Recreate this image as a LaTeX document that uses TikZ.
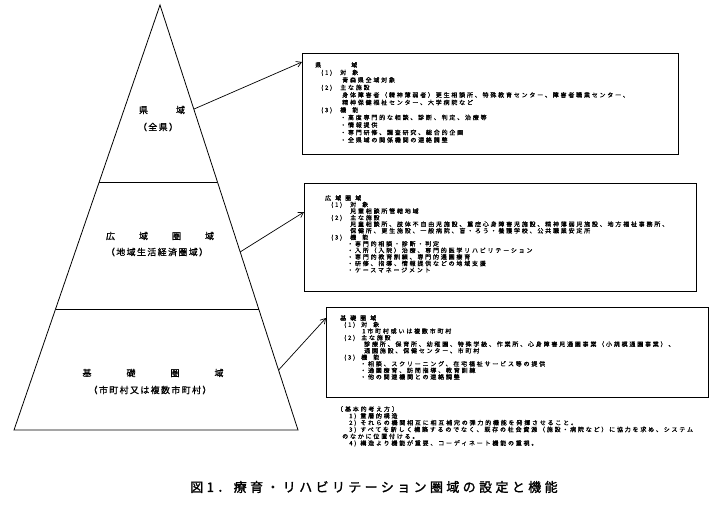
\documentclass[tikz,border=0pt]{standalone}
\usepackage{fontspec}
\newfontfamily\jpfont{Noto Sans CJK JP}
\newfontfamily\jpsmall[LetterSpace=30,FakeBold=1]{Noto Sans CJK JP}
\newfontfamily\jplabel[LetterSpace=15,FakeBold=0.8]{Noto Sans CJK JP}
\newfontfamily\jpcap[LetterSpace=26,FakeBold=1.5]{Noto Sans CJK JP}
\usetikzlibrary{arrows.meta,calc}

\tikzset{
	layer/.style={draw, line width=0.8pt},
	infobox/.style={draw, line width=1.1pt, anchor=north west, inner sep=0pt},
	infotext/.style={anchor=north west, align=left, inner sep=0pt},
	tierlabel/.style={align=center, inner sep=0pt, font=\jplabel\fontsize{9}{11}\selectfont},
	link/.style={-{Straight Barb[length=5pt,width=6pt]}, line width=0.7pt}
}
\newcommand{\ind}[1]{\hspace*{#1pt}}

\begin{document}
\begin{tikzpicture}[x=1pt,y=-1pt]
	\useasboundingbox (0,0) rectangle (717,509);
	% pyramid
	\coordinate (apex) at (160,5);
	\coordinate (baseL) at (14,430);
	\coordinate (baseR) at (298,430);
	\draw[layer] (apex) -- (baseL) -- (baseR) -- cycle;
	\draw[layer] ($(apex)!0.4165!(baseL)$) -- ($(apex)!0.4165!(baseR)$);
	\draw[layer] ($(apex)!0.7153!(baseL)$) -- ($(apex)!0.7153!(baseR)$);
	\coordinate (outA) at ($(apex)!0.245!(baseR)$);
	\coordinate (outB) at ($(apex)!0.581!(baseR)$);
	\coordinate (outC) at ($(apex)!0.859!(baseR)$);
	% tier labels
	\node[tierlabel] (prefT) at (162,110) {県\ind{28}域};
	\node[tierlabel] (prefS) at (158,127) {（全県）};
	\node[tierlabel] (wideT) at (160,236) {広\ind{24}域\ind{24}圏\ind{24}域};
	\node[tierlabel] (wideS) at (157,252) {（地域生活経済圏域）};
	\node[tierlabel] (baseT) at (153,373) {基\ind{35}礎\ind{35}圏\ind{35}域};
	\node[tierlabel] (baseS) at (150,390) {（市町村又は複数市町村）};
	% boxes
	\node[infobox, minimum width=376pt, minimum height=101pt] (prefBox) at (302,53) {};
	\node[infobox, minimum width=392pt, minimum height=108pt] (wideBox) at (304,183) {};
	\node[infobox, minimum width=382pt, minimum height=90pt] (baseBox) at (326,307) {};
	\draw[link] (outA) -- ($(prefBox.north west)+(0,9)$);
	\draw[link] (outB) -- ($(wideBox.north west)+(0,29)$);
	\draw[link] (outC) -- ($(baseBox.north west)+(0,11)$);
	% box texts
	\node[infotext, font=\jpsmall\fontsize{6}{7.5}\selectfont] (prefTxt) at (315,62) {%
		県\ind{30}域\\
		\ind{6}(1)\ind{8}対\ind{6}象\\
		\ind{27}青森県全域対象\\
		\ind{6}(2)\ind{8}主な施設\\
		\ind{27}身体障害者（精神薄弱者）更生相談所、特殊教育センター、障害者職業センター、\\
		\ind{27}精神保健福祉センター、大学病院など\\
		\ind{6}(3)\ind{8}機\ind{6}能\\
		\ind{25}・高度専門的な相談、診断、判定、治療等\\
		\ind{25}・情報提供\\
		\ind{25}・専門研修、調査研究、総合的企画\\
		\ind{25}・全県域の関係機関の連絡調整};
	\node[infotext, font=\jpsmall\fontsize{6}{6.55}\selectfont] (wideTxt) at (325,195) {%
		広\ind{4}域\ind{4}圏\ind{4}域\\
		\ind{6}(1)\ind{8}対\ind{6}象\\
		\ind{25}児童相談所管轄地域\\
		\ind{6}(2)\ind{8}主な施設\\
		\ind{25}児童相談所、肢体不自由児施設、重症心身障害児施設、精神薄弱児施設、地方福祉事務所、\\
		\ind{25}保健所、更生施設、一般病院、盲・ろう・養護学校、公共職業安定所\\
		\ind{6}(3)\ind{8}機\ind{6}能\\
		\ind{22}・専門的相談・診断・判定\\
		\ind{22}・入所（入院）治療、専門的医学リハビリテーション\\
		\ind{22}・専門的教育訓練、専門的通園療育\\
		\ind{22}・研修、指導、情報提供などの地域支援\\
		\ind{22}・ケースマネージメント};
	\node[infotext, font=\jpsmall\fontsize{6}{6.55}\selectfont] (baseTxt) at (340,315) {%
		基\ind{4}礎\ind{4}圏\ind{4}域\\
		\ind{4}(1)\ind{6}対\ind{6}象\\
		\ind{22}1市町村或いは複数市町村\\
		\ind{4}(2)\ind{6}主な施設\\
		\ind{24}診療所、保育所、幼稚園、特殊学級、作業所、心身障害児通園事業（小規模通園事業）、\\
		\ind{24}通園施設、保健センター、市町村\\
		\ind{4}(3)\ind{6}機\ind{6}能\\
		\ind{20}・相談、スクリーニング、在宅福祉サービス等の提供\\
		\ind{20}・通園療育、訪問指導、教育訓練\\
		\ind{20}・他の関連機関との連絡調整};
	% basic idea
	\node[infotext, font=\jpsmall\fontsize{6}{6.8}\selectfont] (ideaTxt) at (337,406) {%
		〔基本的考え方〕\\
		\ind{12}1)\ind{4}重層的構造\\
		\ind{12}2)\ind{4}それらの機関相互に相互補完の弾力的機能を発揮させること。\\
		\ind{12}3)\ind{4}すべてを新しく構築するのでなく、既存の社会資源（施設・病院など）に協力を求め、システム\\
		\ind{5}のなかに位置付ける。\\
		\ind{12}4)\ind{4}構造より機能が重要、コーディネート機能の重視。};
	% caption
	\node[inner sep=0pt, font=\jpcap\fontsize{13}{15}\selectfont] (caption) at (374,487) {図1．療育・リハビリテーション圏域の設定と機能};
\end{tikzpicture}
\end{document}
